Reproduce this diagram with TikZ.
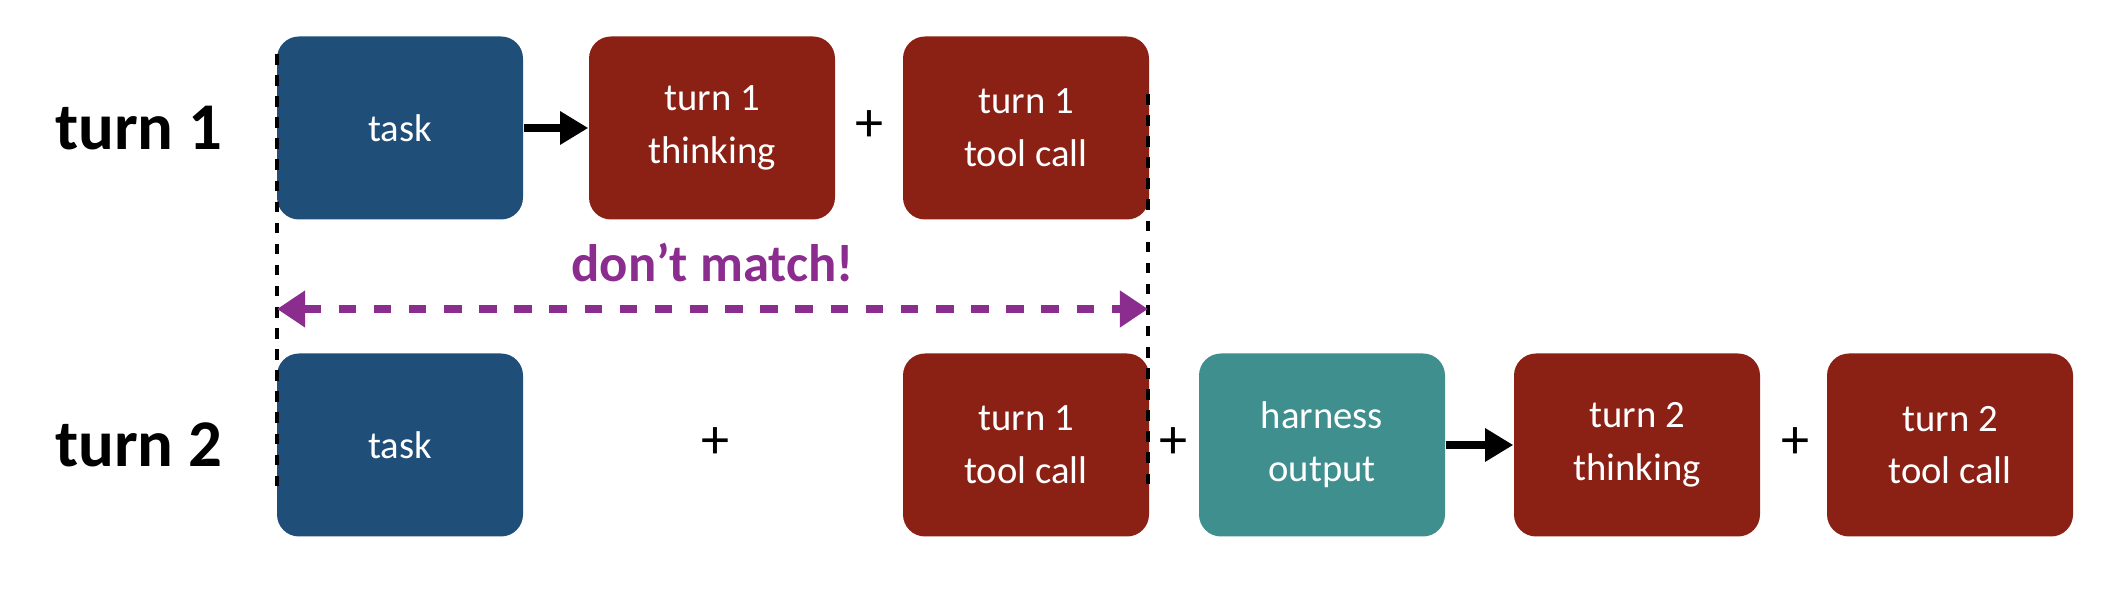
\documentclass[tikz,border=0pt]{standalone}
\usepackage{fontspec}
\setmainfont{Carlito}
\usetikzlibrary{arrows.meta, positioning}
\definecolor{taskblue}{HTML}{1F4E79}
\definecolor{modelred}{HTML}{8B2014}
\definecolor{harnessteal}{HTML}{3F8F8F}
\definecolor{warnpurple}{HTML}{8B2D8F}
\newcommand{\boxwidth}{2.46cm}
\newcommand{\boxheight}{1.83cm}
\tikzstyle{block} = [% base box
  rectangle,
  rounded corners=0.22cm,
  minimum width=\boxwidth,
  minimum height=\boxheight,
  align=center,
  text=white,
  font=\fontsize{11}{15}\selectfont,
  inner sep=0pt
  ]
\tikzstyle{task} = [block, fill=taskblue]
\tikzstyle{model} = [block, fill=modelred]
\tikzstyle{harness} = [block, fill=harnessteal]
\tikzstyle{rowlabel} = [font=\fontsize{19}{22}\selectfont\bfseries]
\tikzstyle{plus} = [font=\fontsize{16}{18}\selectfont]
\tikzstyle{arrow} = [% arrow format
  line width=2pt,
  -{Triangle[length=8pt,width=9pt]}
  ]

\begin{document}
\begin{tikzpicture}
\useasboundingbox (0,0) rectangle (21.16,6.04);

%%% Nodes
\node[rowlabel] (label1) at (1.39,4.76) {turn 1};
\node[task] (task1) at (4.0,4.76) {task};
\node[model] (think1) at (7.12,4.76) {turn 1\\thinking};
\node[model] (call1) at (10.26,4.76) {turn 1\\tool call};
\node[plus] (plus1) at (8.69,4.78) {+};

\node[rowlabel] (label2) at (1.39,1.59) {turn 2};
\node[task] (task2) at (4.0,1.59) {task};
\node[plus] (plus2) at (7.15,1.61) {+};
\node[model] (call2) at (10.26,1.59) {turn 1\\tool call};
\node[plus] (plus3) at (11.73,1.61) {+};
\node[harness] (harn2) at (13.22,1.59) {harness\\output};
\node[model] (think2) at (16.37,1.59) {turn 2\\thinking};
\node[plus] (plus4) at (17.95,1.61) {+};
\node[model] (call3) at (19.5,1.59) {turn 2\\tool call};

%%% Connectors
\draw[arrow] (task1) -- (think1);
\draw[arrow] (harn2) -- (think2);

\coordinate (ltop) at (2.77,5.5);
\coordinate (lbot) at (2.77,1.14);
\coordinate (rtop) at (11.48,5.1);
\coordinate (rbot) at (11.48,1.14);
\draw[dashed, line width=1pt] (ltop) -- (lbot);
\draw[dashed, line width=1pt] (rtop) -- (rbot);

\coordinate (mleft) at (2.77,2.95);
\coordinate (mright) at (11.48,2.95);
\draw[warnpurple, line width=2pt, dash pattern=on 5pt off 5pt,
  {Triangle[length=8pt,width=10pt]}-{Triangle[length=8pt,width=10pt]}] (mleft) -- (mright)
  node[midway, above=0.12cm, font=\fontsize{15}{18}\selectfont\bfseries] (mismatch) {don’t match!};

\end{tikzpicture}
\end{document}
